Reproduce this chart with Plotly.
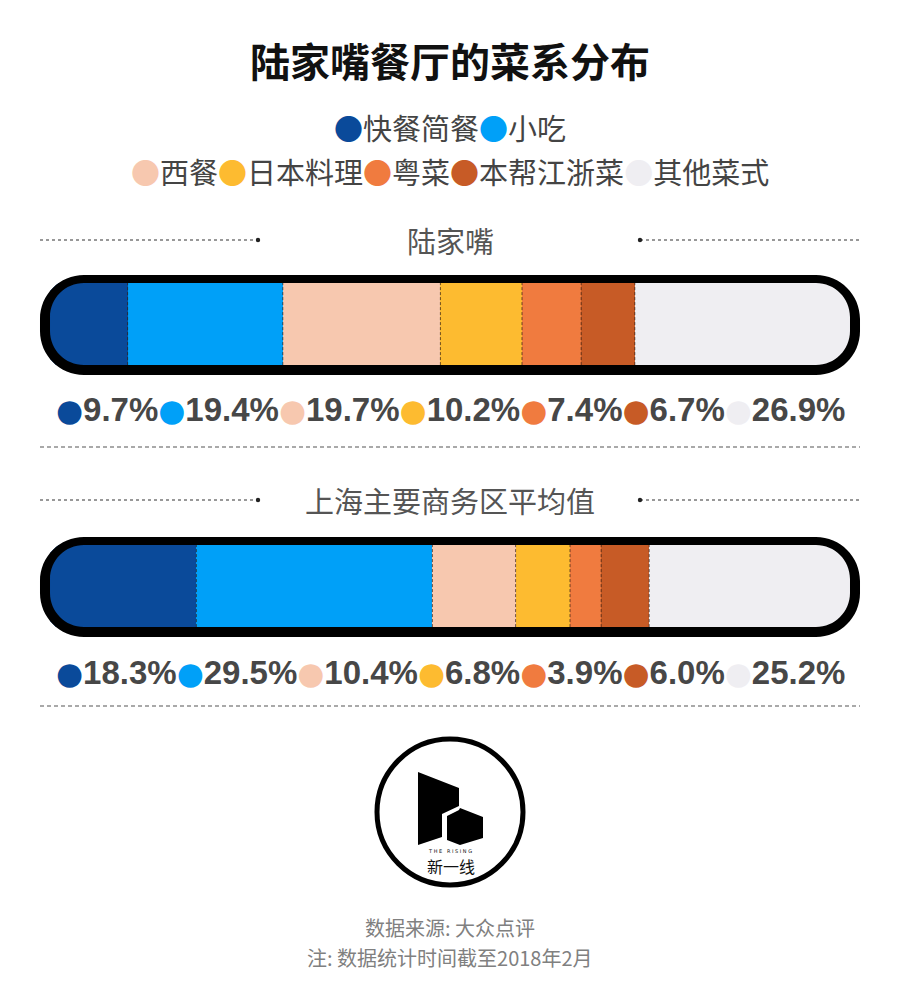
import plotly.graph_objects as go

# ---------------- data ----------------
cuisines = ["快餐简餐", "小吃", "西餐", "日本料理", "粤菜", "本帮江浙菜", "其他菜式"]
colors = ["#0A4A9A", "#00A0F8", "#F7C8AF", "#FDBB30", "#F07B3F", "#C75B26", "#EFEEF2"]
areas = ["陆家嘴", "上海主要商务区平均值"]
lujiazui = [9.7, 19.4, 19.7, 10.2, 7.4, 6.7, 26.9]
shanghai_avg = [18.3, 29.5, 10.4, 6.8, 3.9, 6.0, 25.2]
series = [lujiazui, shanghai_avg]

W, H = 900, 1005


def px(x):
    return x / W


def py(y):
    return 1 - y / H


fig = go.Figure()
for i, name in enumerate(cuisines):
    fig.add_trace(go.Bar(
        x=[s[i] for s in series], y=areas, orientation="h", name=name,
        marker=dict(color=colors[i], line=dict(width=0)),
        hoverinfo="x+name", showlegend=False,
    ))

# row geometry (pixels)
row_gap = 262.0
first_center = 324.0
bar_h = 82.0
inner_x0, inner_x1 = 50, 850

shapes = []
annotations = []
K = 0.5523


def P(x, y):
    return f"{px(x):.5f},{py(y):.5f}"


def rrect(x0, y0, x1, y1, r, cw=True):
    k = r * (1 - K)
    if cw:
        return (f"M {P(x0+r, y0)} L {P(x1-r, y0)} C {P(x1-k, y0)} {P(x1, y0+k)} {P(x1, y0+r)} "
                f"L {P(x1, y1-r)} C {P(x1, y1-k)} {P(x1-k, y1)} {P(x1-r, y1)} L {P(x0+r, y1)} "
                f"C {P(x0+k, y1)} {P(x0, y1-k)} {P(x0, y1-r)} L {P(x0, y0+r)} "
                f"C {P(x0, y0+k)} {P(x0+k, y0)} {P(x0+r, y0)} Z")
    return (f" M {P(x0+r, y0)} C {P(x0+k, y0)} {P(x0, y0+k)} {P(x0, y0+r)} L {P(x0, y1-r)} "
            f"C {P(x0, y1-k)} {P(x0+k, y1)} {P(x0+r, y1)} L {P(x1-r, y1)} "
            f"C {P(x1-k, y1)} {P(x1, y1-k)} {P(x1, y1-r)} L {P(x1, y0+r)} "
            f"C {P(x1, y0+k)} {P(x1-k, y0)} {P(x1-r, y0)} Z")


def rect_cw(x0, y0, x1, y1):
    return f"M {P(x0, y0)} L {P(x1, y0)} L {P(x1, y1)} L {P(x0, y1)} Z"


label_color = "#474747"
for r, vals in enumerate(series):
    cy = first_center + r * row_gap
    # dashed separators between segments
    cum = 0
    for v in vals[:-1]:
        cum += v
        shapes.append(dict(type="line", xref="x", yref="y", x0=cum, x1=cum,
                           y0=r - 0.16, y1=r + 0.16,
                           line=dict(color="rgba(50,30,20,0.7)", width=1, dash="3px,2px")))
    # white mask outside the frame
    shapes.append(dict(type="path", xref="paper", yref="paper",
                       path=rect_cw(30, cy - 56, 870, cy + 58)
                       + " " + rrect(40, cy - 49, 860, cy + 51, 44, False),
                       fillcolor="white", line=dict(width=0), layer="above"))
    # black frame
    shapes.append(dict(type="path", xref="paper", yref="paper",
                       path=rrect(40, cy - 49, 860, cy + 51, 44, True)
                       + rrect(inner_x0, cy - 41, inner_x1, cy + 41, 34, False),
                       fillcolor="black", line=dict(width=0), layer="above"))
    # header with dotted lines
    hy = cy - 84 if r == 0 else cy - 86
    annotations.append(dict(x=0.5, y=py(hy), xref="paper", yref="paper",
                            text=areas[r], showarrow=False, xanchor="center", yanchor="middle",
                            font=dict(family="Noto Sans CJK SC", size=29, color="#555555")))
    for (a, b, dotx) in [(40, 258, 258), (640, 860, 640)]:
        shapes.append(dict(type="line", xref="paper", yref="paper", x0=px(a), x1=px(b),
                           y0=py(hy), y1=py(hy), line=dict(color="#777777", width=1.5, dash="dot")))
        shapes.append(dict(type="circle", xref="paper", yref="paper",
                           x0=px(dotx - 2.2), x1=px(dotx + 2.2), y0=py(hy - 2.2), y1=py(hy + 2.2),
                           fillcolor="#222222", line=dict(width=0)))
    # percent labels row
    parts = []
    for c, v in zip(colors, vals):
        parts.append(f"<span style='color:{c};font-family:DejaVu Sans;font-size:31px'>●</span>{v:.1f}%")
    annotations.append(dict(x=0.5, y=py(cy + 86), xref="paper", yref="paper",
                            text="".join(parts), showarrow=False, xanchor="center", yanchor="middle",
                            font=dict(family="Liberation Sans", size=33, color=label_color, weight="bold")))
    # dashed line under labels
    ly = cy + 123 if r == 0 else cy + 120
    shapes.append(dict(type="line", xref="paper", yref="paper", x0=px(40), x1=px(860),
                       y0=py(ly), y1=py(ly), line=dict(color="#555555", width=1.2, dash="4px,3px")))

# title & legend
annotations.append(dict(x=0.5, y=py(60), xref="paper", yref="paper", text="<b>陆家嘴餐厅的菜系分布</b>",
                        showarrow=False, xanchor="center", yanchor="middle",
                        font=dict(family="Noto Sans CJK SC", size=40, color="#111111")))


def legend_line(idx):
    return "".join(f"<span style='color:{colors[i]}'>●</span>{cuisines[i]}" for i in idx)


annotations.append(dict(x=0.5, y=py(127), xref="paper", yref="paper", text=legend_line([0, 1]),
                        showarrow=False, xanchor="center", yanchor="middle",
                        font=dict(family="Noto Sans CJK SC", size=29, color="#444444")))
annotations.append(dict(x=0.5, y=py(171), xref="paper", yref="paper", text=legend_line([2, 3, 4, 5, 6]),
                        showarrow=False, xanchor="center", yanchor="middle",
                        font=dict(family="Noto Sans CJK SC", size=29, color="#444444")))

# logo
shapes.append(dict(type="circle", xref="paper", yref="paper",
                   x0=px(377), x1=px(523), y0=py(739), y1=py(885),
                   line=dict(color="black", width=5), fillcolor="white"))


def poly(pts):
    return "M " + " L ".join(P(x, y) for x, y in pts) + " Z"


shapes.append(dict(type="path", xref="paper", yref="paper",
                   path=poly([(418, 772), (459, 788), (459, 806), (442, 814), (442, 837), (418, 845)]),
                   fillcolor="black", line=dict(width=0)))
shapes.append(dict(type="path", xref="paper", yref="paper",
                   path=poly([(447, 816), (459, 810), (460, 808), (483, 817), (483, 838), (460, 845), (447, 840)]),
                   fillcolor="black", line=dict(width=0)))
annotations.append(dict(x=px(450), y=py(851), xref="paper", yref="paper", text="T H E   R I S I N G",
                        showarrow=False, xanchor="center", yanchor="middle",
                        font=dict(family="DejaVu Sans", size=5, color="#111111")))
annotations.append(dict(x=px(451), y=py(866), xref="paper", yref="paper", text="新一线",
                        showarrow=False, xanchor="center", yanchor="middle",
                        font=dict(family="Noto Sans CJK SC", size=16, color="#111111")))

# source notes
annotations.append(dict(x=0.5, y=py(927), xref="paper", yref="paper", text="数据来源: 大众点评",
                        showarrow=False, xanchor="center", yanchor="middle",
                        font=dict(family="Noto Sans CJK SC", size=20, color="#808080")))
annotations.append(dict(x=0.5, y=py(957), xref="paper", yref="paper", text="注: 数据统计时间截至2018年2月",
                        showarrow=False, xanchor="center", yanchor="middle",
                        font=dict(family="Noto Sans CJK SC", size=20, color="#808080")))

unit = row_gap
y_bottom = (H - first_center) / unit
y_top = -first_center / unit
fig.update_layout(
    width=W, height=H, margin=dict(l=0, r=0, t=0, b=0),
    paper_bgcolor="white", plot_bgcolor="rgba(0,0,0,0)",
    barmode="stack", bargap=1 - bar_h / row_gap,
    xaxis=dict(domain=[px(inner_x0), px(inner_x1)], range=[0, 100], visible=False, fixedrange=True),
    yaxis=dict(domain=[0, 1], range=[y_bottom, y_top], visible=False, type="category",
               categoryorder="array", categoryarray=areas, fixedrange=True),
    shapes=shapes, annotations=annotations, showlegend=False,
)
fig.write_html("out.html", config={"displayModeBar": False},
               post_script="document.body.style.margin='0';")
